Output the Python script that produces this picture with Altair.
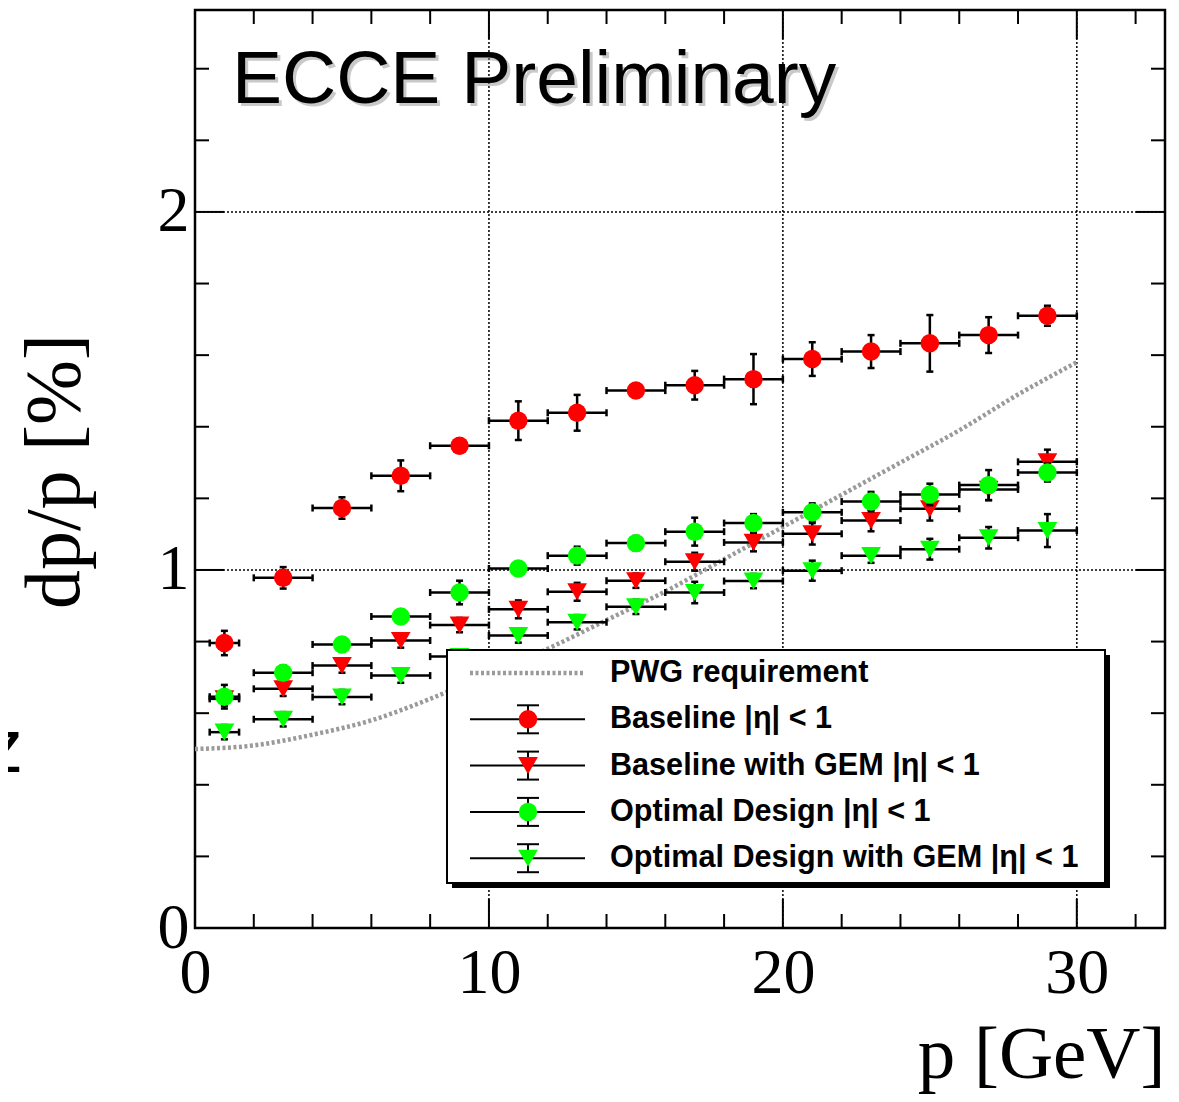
import altair as alt
import pandas as pd

# ---------------- data ----------------
p_center = [1, 3, 5, 7, 9, 11, 13, 15, 17, 19, 21, 23, 25, 27, 29]
p_halfwidth = [0.5, 1, 1, 1, 1, 1, 1, 1, 1, 1, 1, 1, 1, 1, 1]

baseline = [0.796, 0.978, 1.173, 1.263, 1.347, 1.417, 1.439, 1.501, 1.516, 1.533, 1.589, 1.610, 1.633, 1.656, 1.710]
baseline_err = [0.034, 0.030, 0.030, 0.043, 0.020, 0.054, 0.050, 0.015, 0.040, 0.070, 0.047, 0.046, 0.079, 0.050, 0.028]

baseline_gem = [0.640, 0.668, 0.733, 0.803, 0.846, 0.890, 0.939, 0.970, 1.023, 1.077, 1.101, 1.138, 1.171, 1.225, 1.302]
baseline_gem_err = [0.020, 0.020, 0.020, 0.020, 0.020, 0.025, 0.025, 0.020, 0.025, 0.025, 0.030, 0.030, 0.033, 0.030, 0.034]

optimal = [0.646, 0.713, 0.792, 0.870, 0.937, 1.004, 1.040, 1.075, 1.107, 1.131, 1.161, 1.191, 1.211, 1.237, 1.272]
optimal_err = [0.033, 0.020, 0.020, 0.020, 0.033, 0.020, 0.025, 0.020, 0.039, 0.025, 0.025, 0.027, 0.030, 0.042, 0.025]

optimal_gem = [0.547, 0.583, 0.645, 0.705, 0.758, 0.817, 0.854, 0.897, 0.937, 0.969, 0.998, 1.040, 1.058, 1.090, 1.110]
optimal_gem_err = [0.020, 0.020, 0.020, 0.020, 0.020, 0.020, 0.020, 0.020, 0.030, 0.020, 0.028, 0.020, 0.029, 0.030, 0.046]

pwg_p = [0, 2, 4, 6, 8, 10, 12, 14, 16, 18, 20, 22, 24, 26, 28, 30]
pwg_req = [0.50, 0.51, 0.54, 0.58, 0.64, 0.71, 0.78, 0.86, 0.94, 1.03, 1.12, 1.21, 1.30, 1.39, 1.49, 1.58]

series_names = ["Baseline |η| < 1", "Baseline with GEM |η| < 1",
                "Optimal Design |η| < 1", "Optimal Design with GEM |η| < 1"]
pwg_name = "PWG requirement"
watermark = "ECCE Preliminary"
x_title = "p [GeV]"
y_title = "dp/p [%]"

x_labels = [0, 10, 20, 30]
y_labels = [0, 1, 2]
x_major = [0, 10, 20, 30]
x_minor = [2, 4, 6, 8, 12, 14, 16, 18, 22, 24, 26, 28, 32]
y_major = [0, 1, 2]
y_minor = [0.2, 0.4, 0.6, 0.8, 1.2, 1.4, 1.6, 1.8, 2.2, 2.4]
x_grid = [10, 20, 30]
y_grid = [1, 2]

# ---------------- layout ----------------
W, H = 970, 918
xs = alt.Scale(domain=[0, 33], nice=False, zero=False)
ys = alt.Scale(domain=[0, 2.564], nice=False, zero=False)
SERIF = "Liberation Serif"
SANS = "Liberation Sans"

x_axis = alt.Axis(values=x_labels, ticks=False, domain=False, grid=False,
                  labelFont=SERIF, labelFontSize=64, labelColor="black",
                  labelPadding=13, labelFlush=False, labelOverlap=False,
                  title=x_title, titleFont=SERIF, titleFontSize=75,
                  titleFontWeight="normal", titleColor="black",
                  titleX=W, titleY=149, titleAlign="right",
                  titleBaseline="alphabetic")
y_axis = alt.Axis(values=y_labels, ticks=False, domain=False, grid=False,
                  labelFont=SERIF, labelFontSize=64, labelColor="black",
                  labelPadding=6, labelFlush=False, labelOverlap=False,
                  title=y_title, titleFont=SERIF, titleFontSize=78,
                  titleFontWeight="normal", titleColor="black",
                  titleX=-117, titleY=461, titleAngle=270, titleAlign="center",
                  titleBaseline="alphabetic")


def X(f):
    return alt.X(f, type="quantitative", scale=xs, axis=x_axis)


def Y(f):
    return alt.Y(f, type="quantitative", scale=ys, axis=y_axis)


layers = []

# grid
layers.append(alt.Chart(pd.DataFrame({"v": x_grid})).mark_rule(
    color="black", strokeWidth=1.5, strokeDash=[2, 2]).encode(x=X("v")))
layers.append(alt.Chart(pd.DataFrame({"v": y_grid})).mark_rule(
    color="black", strokeWidth=1.5, strokeDash=[2, 2]).encode(y=Y("v")))

# inward ticks on all four sides
MAJ, MIN = 29, 14
for vals, ln in ((x_major, MAJ), (x_minor, MIN)):
    d = pd.DataFrame({"v": vals})
    layers.append(alt.Chart(d).mark_rule(color="black", strokeWidth=2).encode(
        x=X("v"), y=alt.value(H), y2=alt.value(H - ln)))
    layers.append(alt.Chart(d).mark_rule(color="black", strokeWidth=2).encode(
        x=X("v"), y=alt.value(0), y2=alt.value(ln)))
for vals, ln in ((y_major, MAJ), (y_minor, MIN)):
    d = pd.DataFrame({"v": vals})
    layers.append(alt.Chart(d).mark_rule(color="black", strokeWidth=2).encode(
        y=Y("v"), x=alt.value(0), x2=alt.value(ln)))
    layers.append(alt.Chart(d).mark_rule(color="black", strokeWidth=2).encode(
        y=Y("v"), x=alt.value(W), x2=alt.value(W - ln)))

# PWG requirement curve
layers.append(alt.Chart(pd.DataFrame({"p": pwg_p, "v": pwg_req})).mark_line(
    color="#9a9a9a", strokeWidth=4.5, strokeDash=[3, 2.5], interpolate="monotone").encode(
    x=X("p"), y=Y("v")))

# data series
styles = [("#ff0000", "circle", 340), ("#ff0000", "triangle-down", 390),
          ("#00ff00", "circle", 340), ("#00ff00", "triangle-down", 390)]
values = [(baseline, baseline_err), (baseline_gem, baseline_gem_err),
          (optimal, optimal_err), (optimal_gem, optimal_gem_err)]

for name, (vals, errs), (col, shp, sz) in zip(series_names, values, styles):
    lo = [p - h for p, h in zip(p_center, p_halfwidth)]
    hi = [p + h for p, h in zip(p_center, p_halfwidth)]
    ylo = [v - e for v, e in zip(vals, errs)]
    yhi = [v + e for v, e in zip(vals, errs)]
    d = pd.DataFrame({"p": p_center, "lo": lo, "hi": hi, "y": vals, "ylo": ylo, "yhi": yhi})
    hcap = pd.DataFrame({"x": lo + hi, "y": vals + vals})
    vcap = pd.DataFrame({"x": p_center + p_center, "y": ylo + yhi})
    layers.append(alt.Chart(d).mark_rule(color="black", strokeWidth=2.5).encode(
        x=X("lo"), x2=alt.X2("hi"), y=Y("y")))
    layers.append(alt.Chart(d).mark_rule(color="black", strokeWidth=2.5).encode(
        x=X("p"), y=Y("ylo"), y2=alt.Y2("yhi")))
    layers.append(alt.Chart(hcap).mark_tick(color="black", orient="vertical", size=7,
                                            thickness=2.5, opacity=1).encode(x=X("x"), y=Y("y")))
    layers.append(alt.Chart(vcap).mark_tick(color="black", orient="horizontal", size=7,
                                            thickness=2.5, opacity=1).encode(x=X("x"), y=Y("y")))
    layers.append(alt.Chart(d).mark_point(shape=shp, filled=True, size=sz, color=col,
                                          opacity=1, strokeWidth=0).encode(x=X("p"), y=Y("y")))

# legend box (with drop shadow)
one = pd.DataFrame({"a": [0]})
LX0, LX1, LY0, LY1 = 252, 910, 640, 873
layers.append(alt.Chart(one).mark_rect(color="black").encode(
    x=alt.value(LX0 + 5), x2=alt.value(LX1 + 5), y=alt.value(LY0 + 5), y2=alt.value(LY1 + 5)))
layers.append(alt.Chart(one).mark_rect(fill="white", stroke="black", strokeWidth=2).encode(
    x=alt.value(LX0), x2=alt.value(LX1), y=alt.value(LY0), y2=alt.value(LY1)))

ROW0, DROW = 663, 46.3
S0, S1, SM, TX = 275, 390, 333, 415
legend_labels = [pwg_name] + series_names
for i, lab in enumerate(legend_labels):
    ry = ROW0 + i * DROW
    if i == 0:
        layers.append(alt.Chart(one).mark_rule(color="#9a9a9a", strokeWidth=4.5,
                                               strokeDash=[3, 2.5]).encode(
            x=alt.value(S0), x2=alt.value(S1), y=alt.value(ry)))
    else:
        col, shp, sz = styles[i - 1]
        layers.append(alt.Chart(one).mark_rule(color="black", strokeWidth=2).encode(
            x=alt.value(S0), x2=alt.value(S1), y=alt.value(ry)))
        layers.append(alt.Chart(one).mark_rule(color="black", strokeWidth=2).encode(
            x=alt.value(SM), y=alt.value(ry - 14), y2=alt.value(ry + 14)))
        for cy in (ry - 14, ry + 14):
            layers.append(alt.Chart(one).mark_rule(color="black", strokeWidth=2).encode(
                x=alt.value(SM - 11), x2=alt.value(SM + 11), y=alt.value(cy)))
        layers.append(alt.Chart(one).mark_point(shape=shp, filled=True, size=sz, color=col,
                                                opacity=1, strokeWidth=0).encode(
            x=alt.value(SM), y=alt.value(ry)))
    layers.append(alt.Chart(pd.DataFrame({"t": [lab]})).mark_text(
        font=SANS, fontWeight="bold", fontSize=30.6, align="left", baseline="middle",
        color="black").encode(text="t:N", x=alt.value(TX), y=alt.value(ry)))

# "ECCE Preliminary" with soft shadow
wm = pd.DataFrame({"t": [watermark]})
layers.append(alt.Chart(wm).mark_text(font=SANS, fontSize=75, align="left",
                                      baseline="alphabetic", color="#888888", opacity=0.45).encode(
    text="t:N", x=alt.value(40), y=alt.value(96)))
layers.append(alt.Chart(wm).mark_text(font=SANS, fontSize=75, align="left",
                                      baseline="alphabetic", color="black").encode(
    text="t:N", x=alt.value(37), y=alt.value(93)))

# stray clipped letter at far left
layers.append(alt.Chart(pd.DataFrame({"t": ["z"]})).mark_text(
    font=SANS, fontSize=76, align="right", baseline="alphabetic", color="black").encode(
    text="t:N", x=alt.value(-172), y=alt.value(762)))

chart = alt.layer(*layers).properties(
    width=W, height=H,
    padding={"left": 187, "top": 2, "right": 6, "bottom": 166},
    autosize=alt.AutoSizeParams(type="none"),
    background="white",
).configure_view(stroke="black", strokeWidth=2.5)

chart.save("out.html", embed_options={"renderer": "svg", "actions": False})
